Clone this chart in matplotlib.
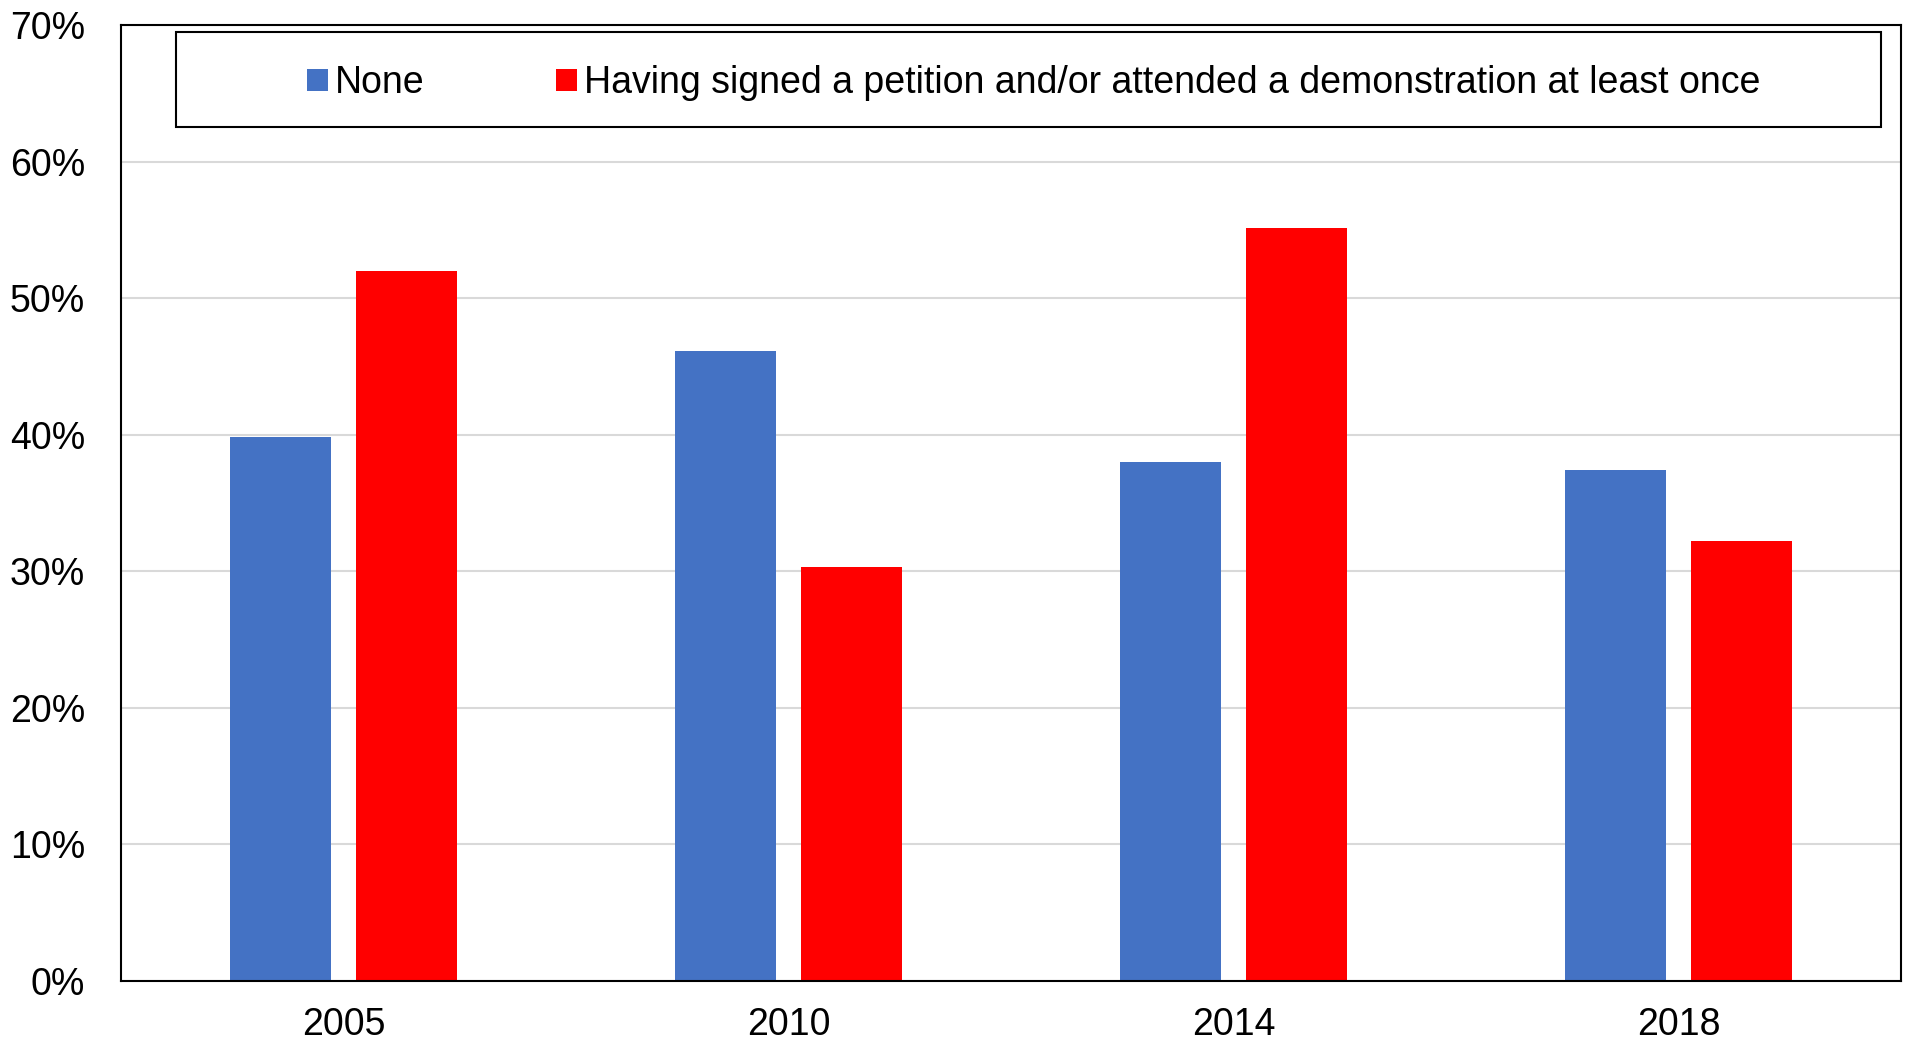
import matplotlib.pyplot as plt
from matplotlib.patches import Rectangle
from matplotlib.ticker import FuncFormatter, MultipleLocator
import numpy as np

years = ["2005", "2010", "2014", "2018"]
none_pct = [39.8, 46.1, 38.0, 37.4]
active_pct = [52.0, 30.3, 55.1, 32.2]
labels = ["None", "Having signed a petition and/or attended a demonstration at least once"]

plt.rcParams["font.family"] = ["Liberation Sans", "DejaVu Sans"]

fig = plt.figure(figsize=(19.05, 10.43), dpi=100)
ax = fig.add_axes([121 / 1905, 1 - 981 / 1043, (1901 - 121) / 1905, (981 - 25) / 1043])

x = np.arange(len(years))
w = 0.226
off = 0.142
ax.bar(x - off, none_pct, w, color="#4472c4", label=labels[0], zorder=2)
ax.bar(x + off, active_pct, w, color="#ff0000", label=labels[1], zorder=2)

ax.set_xlim(-0.5, len(years) - 0.5)
ax.set_ylim(0, 70)
ax.yaxis.set_major_locator(MultipleLocator(10))
ax.yaxis.set_major_formatter(FuncFormatter(lambda v, _: f"{v:.0f}%"))
ax.set_xticks(x)
ax.set_xticklabels(years)
ax.tick_params(axis="both", length=0, labelsize=27, colors="black")
ax.tick_params(axis="x", pad=19)
ax.tick_params(axis="y", pad=26)
ax.grid(axis="y", color="#d9d9d9", linewidth=1.5, zorder=0)
for s in ax.spines.values():
    s.set_linewidth(1.5)
    s.set_color("black")

# legend frame drawn separately, wider than its content
x0 = (176 - 121) / (1901 - 121)
x1 = (1881 - 121) / (1901 - 121)
y0 = (981 - 127) / (981 - 25)
y1 = (981 - 32) / (981 - 25)
ax.add_patch(Rectangle((x0, y0), x1 - x0, y1 - y0, transform=ax.transAxes,
                       fill=True, facecolor="white", edgecolor="black", linewidth=1.5, zorder=3))
leg = ax.legend(loc="center", bbox_to_anchor=((x0 + x1) / 2 + 0.003, (y0 + y1) / 2 - 0.004),
                ncol=2, frameon=False, fontsize=27, handlelength=0.55, handleheight=0.55,
                handletextpad=0.2, columnspacing=3.5)
leg.set_zorder(4)

fig.savefig("out.png", dpi=100)
